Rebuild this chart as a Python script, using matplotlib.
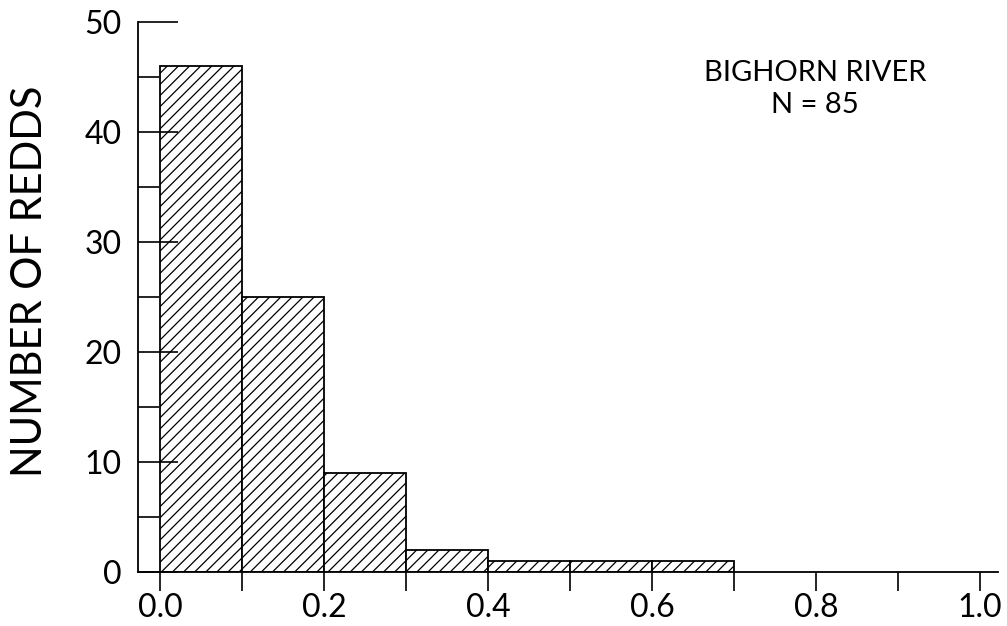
import matplotlib
matplotlib.use("Agg")
import matplotlib.pyplot as plt
from matplotlib.ticker import MultipleLocator

# histogram of redds, bin edges and counts
bin_left = [0.0, 0.1, 0.2, 0.3, 0.4, 0.5, 0.6]
counts = [46, 25, 9, 2, 1, 1, 1]
bin_width = 0.1

x_ticks = [0.0, 0.2, 0.4, 0.6, 0.8, 1.0]
x_ticklabels = ["0.0", "0.2", "0.4", "0.6", "0.8", "1.0"]
y_ticks = [0, 10, 20, 30, 40, 50]

plt.rcParams["font.family"] = ["Lato", "DejaVu Sans"]
plt.rcParams["hatch.linewidth"] = 0.9

fig = plt.figure(figsize=(10.07, 6.26), dpi=100)
ax = fig.add_axes([138 / 1007, 1 - 572 / 626, (998 - 138) / 1007, (572 - 22) / 626])

ax.bar(bin_left, counts, width=bin_width, align="edge", facecolor="white",
       edgecolor="black", hatch="///", linewidth=1.3)

ax.set_xlim(-0.027, 1.022)
ax.set_ylim(0, 50)

ax.spines["top"].set_visible(False)
ax.spines["right"].set_visible(False)
ax.spines["left"].set_linewidth(1.3)
ax.spines["bottom"].set_linewidth(1.3)

ax.set_xticks(x_ticks)
ax.set_xticklabels(x_ticklabels)
ax.xaxis.set_minor_locator(MultipleLocator(0.1))
ax.tick_params(axis="x", which="both", direction="out", length=14, width=1.2,
               labelsize=23, pad=1)

ax.set_yticks(y_ticks)
ax.yaxis.set_minor_locator(MultipleLocator(5))
ax.tick_params(axis="y", which="major", direction="in", length=29, width=1.2,
               labelsize=23, pad=12)
ax.tick_params(axis="y", which="minor", direction="in", length=15, width=1.2)

fig.text(30 / 1007, 1 - 281 / 626, "NUMBER OF REDDS", rotation=90,
         ha="center", va="center", fontsize=30)

ax.text(0.787, 0.878, "BIGHORN RIVER\nN = 85", transform=ax.transAxes,
        ha="center", va="center", fontsize=21, linespacing=1.3)

fig.savefig("out.png", dpi=100)
